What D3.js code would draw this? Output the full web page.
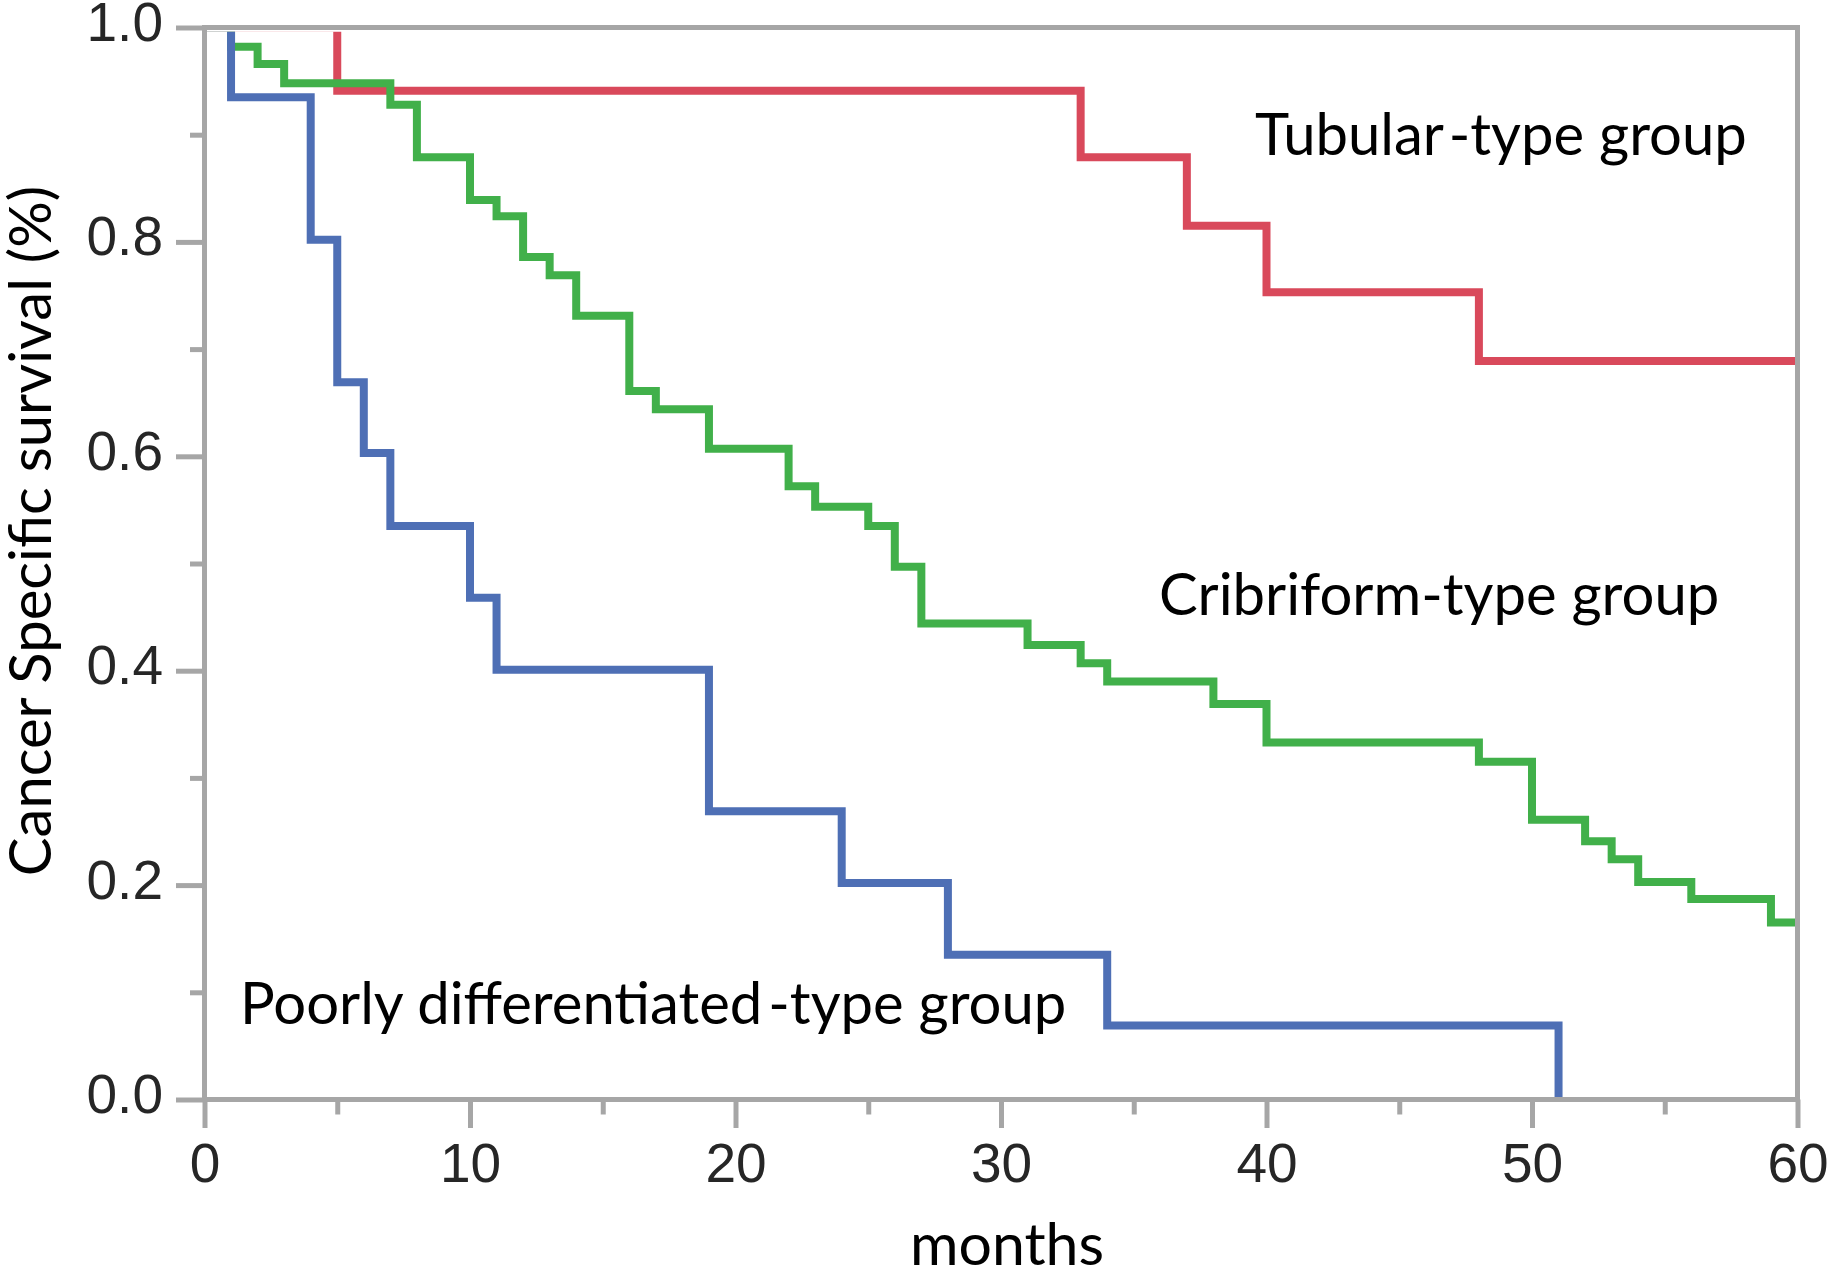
<!DOCTYPE html>
<html>
<head>
<meta charset="utf-8">
<script src="https://cdn.jsdelivr.net/npm/d3@7"></script>
<style>
  html, body { margin: 0; padding: 0; background: #ffffff; }
  svg { display: block; }
</style>
</head>
<body>
<div id="chart"></div>
<script>
// ---- Data ----
const tubularMonths = [0, 5, 33, 37, 40, 48, 60];
const tubularSurvival = [1, 0.941, 0.879, 0.815, 0.753, 0.689, 0.689];

const cribriformMonths = [0, 1, 2, 3, 7, 8, 10, 11, 12, 13, 14, 16, 17, 19, 22, 23, 25, 26, 27, 31, 33, 34, 38, 40, 48, 50, 52, 53, 54, 56, 59, 60];
const cribriformSurvival = [1, 0.982, 0.966, 0.948, 0.928, 0.879, 0.839, 0.824, 0.786, 0.769, 0.731, 0.661, 0.644, 0.607, 0.572, 0.553, 0.535, 0.497, 0.444, 0.424, 0.407, 0.390, 0.369, 0.333, 0.315, 0.261, 0.241, 0.224, 0.203, 0.187, 0.165, 0.165];

const poorlyMonths = [0, 1, 4, 5, 6, 7, 10, 11, 19, 24, 28, 34, 51];
const poorlySurvival = [1, 0.935, 0.802, 0.669, 0.603, 0.535, 0.468, 0.401, 0.269, 0.202, 0.135, 0.069, 0];

const seriesNames = ["Tubular-type group", "Cribriform-type group", "Poorly differentiated-type group"];

const xMajorTicks = [0, 10, 20, 30, 40, 50, 60];
const xMinorTicks = [5, 15, 25, 35, 45, 55];
const yMajorTicks = [0, 0.2, 0.4, 0.6, 0.8, 1.0];
const yMinorTicks = [0.1, 0.3, 0.5, 0.7, 0.9];

const xTitle = "months";
const yTitle = "Cancer Specific survival (%)";

// ---- Layout ----
const W = 1832, H = 1271;
const pLeft = 204.5, pRight = 1797.5, pTop = 27.5, pBottom = 1099.5;
const gray = "#a6a6a6";
const colors = ["#d9495b", "#41b04a", "#4e6fb5"];

const svg = d3.select("#chart").append("svg")
  .attr("width", W).attr("height", H)
  .attr("viewBox", `0 0 ${W} ${H}`);

svg.append("rect").attr("width", W).attr("height", H).attr("fill", "#fff");

const x = d3.scaleLinear().domain([0, 60]).range([pLeft, pRight]);
const y = d3.scaleLinear().domain([0, 1]).range([pBottom, pTop]);

// clip for curves (inside the frame)
svg.append("defs").append("clipPath").attr("id", "plotclip")
  .append("rect")
  .attr("x", pLeft + 2.5).attr("y", pTop + 4.2)
  .attr("width", pRight - pLeft - 5).attr("height", pBottom - pTop - 6.7);

const line = d3.line()
  .x(d => x(d[0]))
  .y(d => y(d[1]))
  .curve(d3.curveStepAfter);

const series = [
  d3.zip(tubularMonths, tubularSurvival),
  d3.zip(cribriformMonths, cribriformSurvival),
  d3.zip(poorlyMonths, poorlySurvival)
];

const gCurves = svg.append("g").attr("clip-path", "url(#plotclip)");
series.forEach((s, i) => {
  gCurves.append("path")
    .datum(s)
    .attr("d", line)
    .attr("fill", "none")
    .attr("stroke", colors[i])
    .attr("stroke-width", 8)
    .attr("stroke-linejoin", "miter")
    .attr("stroke-linecap", "butt");
});

// ---- Frame ----
svg.append("rect")
  .attr("x", pLeft).attr("y", pTop)
  .attr("width", pRight - pLeft).attr("height", pBottom - pTop)
  .attr("fill", "none")
  .attr("stroke", gray)
  .attr("stroke-width", 5);

const tickFont = "'Liberation Sans', Arial, sans-serif";
const labelFont = "Lato, 'Open Sans', sans-serif";

// ---- Y axis ----
const yAxisMajor = d3.axisLeft(y).tickValues(yMajorTicks).tickSize(28.5).tickPadding(13)
  .tickFormat(d3.format(".1f"));
const gy = svg.append("g").attr("transform", `translate(${pLeft},0)`).call(yAxisMajor);
const yAxisMinor = d3.axisLeft(y).tickValues(yMinorTicks).tickSize(14.5).tickFormat("");
const gy2 = svg.append("g").attr("transform", `translate(${pLeft},0)`).call(yAxisMinor);

// ---- X axis ----
const xAxisMajor = d3.axisBottom(x).tickValues(xMajorTicks).tickSize(28.5).tickPadding(15)
  .tickFormat(d3.format("d"));
const gx = svg.append("g").attr("transform", `translate(0,${pBottom})`).call(xAxisMajor);
const xAxisMinor = d3.axisBottom(x).tickValues(xMinorTicks).tickSize(15).tickFormat("");
const gx2 = svg.append("g").attr("transform", `translate(0,${pBottom})`).call(xAxisMinor);

[gy, gy2, gx, gx2].forEach(g => {
  g.select(".domain").remove();
  g.selectAll(".tick line").attr("stroke", gray).attr("stroke-width", 5);
});

gy.selectAll(".tick text")
  .attr("dy", 13)
  .attr("font-family", tickFont)
  .attr("font-size", 55)
  .attr("fill", "#262626");

gx.selectAll(".tick text")
  .attr("y", 82.5)
  .attr("dy", 0)
  .attr("font-family", tickFont)
  .attr("font-size", 55)
  .attr("fill", "#262626");

// ---- Axis titles ----
svg.append("text")
  .attr("x", 1007).attr("y", 1265)
  .attr("text-anchor", "middle")
  .attr("font-family", labelFont)
  .attr("font-size", 59)
  .attr("fill", "#000")
  .text(xTitle);

svg.append("text")
  .attr("transform", "translate(51,531) rotate(-90)")
  .attr("text-anchor", "middle")
  .attr("font-family", labelFont)
  .attr("font-size", 58)
  .attr("fill", "#000")
  .text(yTitle);

// ---- Group labels ----
const labelPos = [
  {x: 1255, y: 155, split: 7},
  {x: 1159, y: 615, split: -1},
  {x: 240, y: 1024, split: 21}
];
labelPos.forEach((p, i) => {
  const name = seriesNames[i];
  const t = svg.append("text")
    .attr("x", p.x).attr("y", p.y)
    .attr("font-family", labelFont)
    .attr("font-size", 58)
    .attr("fill", "#000");
  if (p.split > 0) {
    t.append("tspan").text(name.slice(0, p.split));
    t.append("tspan").attr("dx", 6).text(name.slice(p.split));
  } else {
    t.text(name);
  }
});
</script>
</body>
</html>
